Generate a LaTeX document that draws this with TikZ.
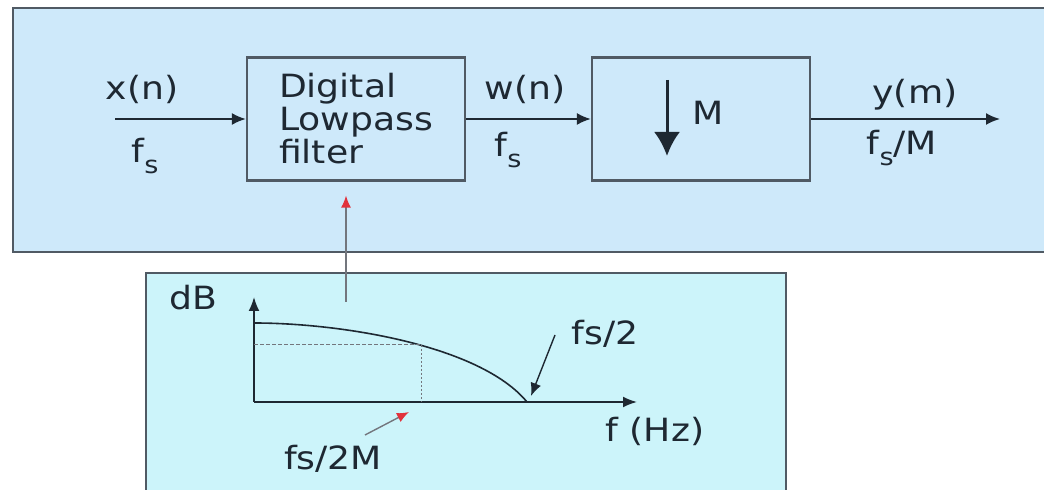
\documentclass[tikz,border=0pt]{standalone}
\usepackage{fontspec}
\setmainfont[FakeStretch=1.13]{DejaVu Sans}
\usepackage{tikz}
\usetikzlibrary{positioning, arrows.meta, calc}
\definecolor{panelblue}{RGB}{206,233,250}
\definecolor{panelcyan}{RGB}{204,244,250}
\definecolor{rimgray}{RGB}{80,90,100}
\definecolor{inkdark}{RGB}{30,40,50}
\definecolor{tapgray}{RGB}{115,118,125}
\definecolor{tipred}{RGB}{225,50,60}
\tikzset{
  panel/.style={draw=rimgray, line width=1pt},
  stagebox/.style={draw=rimgray, line width=1.1pt, minimum width=109pt, minimum height=61.5pt, inner sep=0pt},
  wire/.style={-{Latex[length=7pt, width=6pt]}, line width=1pt, draw=inkdark},
  axis/.style={-{Latex[length=7pt, width=5.5pt]}, line width=0.9pt, draw=inkdark},
  pointer/.style={-{Latex[length=6pt, width=5pt, color=tipred]}, line width=0.7pt, draw=tapgray},
  lbl/.style={anchor=base, inner sep=0pt}
}
\newcommand{\fsub}{f\raisebox{-5.5pt}{\fontsize{12}{12}\selectfont s}}

\begin{document}
\begin{tikzpicture}[x=0.5pt, y=-0.5pt, text=inkdark, font=\fontsize{16}{16.5}\selectfont]
        \useasboundingbox (0,0) rectangle (1044,490);
        \clip (0,0) rectangle (1044,490);
        % the two panels
        \draw[panel, fill=panelblue] (13,8) rectangle (1060,252);
        \draw[panel, fill=panelcyan] (146,273) rectangle (786,500);
        % decimator chain
        \node[stagebox, align=left] (lpf)  at (356,119) {Digital\\Lowpass\\filter};
        \node[stagebox]             (down) at (701,119) {};
        \coordinate (xin)  at (115,119);
        \coordinate (yout) at (1000,119);
        \draw[wire] (xin) -- (lpf.west);
        \draw[wire] (lpf.east) -- (down.west);
        \draw[wire] (down.east) -- (yout);
        \draw[line width=1.5pt, draw=inkdark, -{Latex[length=12pt, width=13pt]}] (667,80) -- (667,156);
        \node[lbl] (mfac) at (708,125) {M};
        \node[lbl] (xlbl) at (142,100) {x(n)};
        \node[lbl] (xfs)  at (145,163) {\fsub};
        \node[lbl] (wlbl) at (525,100) {w(n)};
        \node[lbl] (wfs)  at (508,157) {\fsub};
        \node[lbl] (ylbl) at (915,104) {y(m)};
        \node[lbl] (yfs)  at (902,155) {\fsub/M};
        % response sketch
        \coordinate (orig) at (254,402);
        \coordinate (ytip) at (254,297);
        \coordinate (xtip) at (637,402);
        \coordinate (knee) at (421,345);
        \coordinate (edge) at (527,402);
        \draw[axis] (orig) -- (ytip);
        \draw[axis] (orig) -- (xtip);
        \draw[line width=0.8pt, draw=inkdark] (254,323) .. controls (340,323) and (480,345) .. (edge);
        \draw[draw=tapgray, line width=0.5pt, dash pattern=on 2pt off 1pt] (orig |- knee) -- (knee);
        \draw[draw=tapgray, line width=0.5pt, dash pattern=on 1pt off 1pt] (knee) -- (knee |- orig);
        \node[lbl] (dblbl)   at (193,310) {dB};
        \node[lbl] (halflbl) at (605,345) {fs/2};
        \node[lbl] (hzlbl)   at (655,442) {f (Hz)};
        \node[lbl] (cutlbl)  at (333,470) {fs/2M};
        \coordinate (halftail) at (555,335);
        \coordinate (halfhead) at (531,396);
        \draw[line width=0.7pt, draw=inkdark, -{Latex[length=6.5pt, width=5.5pt]}] (halftail) -- (halfhead);
        \coordinate (cuttail) at (365,435);
        \coordinate (cuthead) at (409,412);
        \draw[pointer] (cuttail) -- (cuthead);
        % tap to the filter
        \coordinate (tapfoot) at (346,302);
        \draw[pointer] (tapfoot) -- ($(lpf.south -| tapfoot)+(0,14)$);
      \end{tikzpicture}
\end{document}
